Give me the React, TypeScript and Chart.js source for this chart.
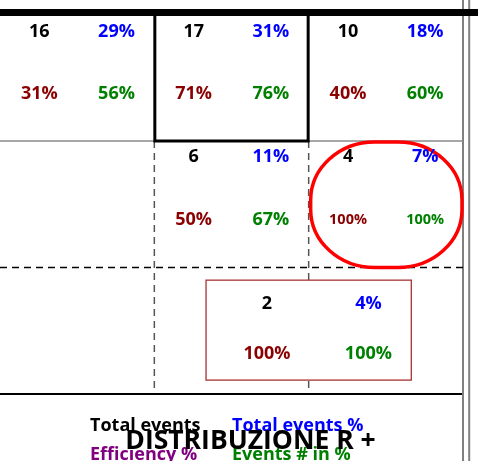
import { useEffect, useRef } from 'react';
import { Chart, registerables } from 'chart.js';

Chart.register(...registerables);

// ---- data ----
const totalEvents = [16, 17, 10, 6, 4, 2];
const totalEventsPct = [29, 31, 18, 11, 7, 4];
const efficiencyPct = [31, 71, 40, 50, 100, 100];
const eventsInPct = [56, 76, 60, 67, 100, 100];
const cellColumn = [0, 1, 2, 1, 2, 1];
const cellRow = [0, 0, 0, 1, 1, 2];
const seriesLabels = ['Total events', 'Total events %', 'Efficiency %', 'Events # in %'];
const chartTitle = 'DISTRIBUZIONE R +';

const seriesValues = [totalEvents, totalEventsPct, efficiencyPct, eventsInPct];
const seriesSuffix = ['', '%', '%', '%'];
const valueColors = ['#000000', '#0000ff', '#8b0000', '#008000'];
const legendColors = ['#000000', '#0000ff', '#800080', '#008000'];

const SELECTED_CELL = 1;
const ELLIPSE_CELL = 4;
const FRAMED_CELL = 5;
const FONT = '"Open Sans", "Noto Sans", sans-serif';

function anchor(cell: number, s: number) {
  const right = s % 2 === 1;
  const bottom = s >= 2;
  if (cell === FRAMED_CELL) {
    return {
      x: cellColumn[cell] + (right ? 1.387 : 0.73),
      y: cellRow[cell] + (bottom ? 0.676 : 0.28),
    };
  }
  return {
    x: cellColumn[cell] + (right ? 0.755 : 0.255),
    y: cellRow[cell] + (bottom ? 0.617 : (cellRow[cell] === 0 ? 0.13 : 0.118)),
  };
}

const gridPlugin = {
  id: 'gridPlugin',
  beforeDatasetsDraw(chart: any) {
    const { ctx, scales } = chart;
    const X = (v: number) => scales.x.getPixelForValue(v);
    const Y = (v: number) => scales.y.getPixelForValue(v);
    const line = (x1: number, y1: number, x2: number, y2: number) => {
      ctx.beginPath();
      ctx.moveTo(x1, y1);
      ctx.lineTo(x2, y2);
      ctx.stroke();
    };
    ctx.save();
    // right double border
    ctx.strokeStyle = '#808080';
    ctx.lineWidth = 2;
    line(X(3), 0, X(3), chart.height);
    line(X(3) + 6.2, 0, X(3) + 6.2, chart.height);
    // row separator
    ctx.strokeStyle = '#8a8a8a';
    ctx.lineWidth = 1.5;
    line(X(0), Y(1), X(1), Y(1));
    line(X(2), Y(1), X(3), Y(1));
    // dashed verticals
    ctx.setLineDash([7, 5]);
    ctx.strokeStyle = '#555555';
    ctx.lineWidth = 1.5;
    line(X(1), Y(1), X(1), Y(3));
    line(X(2), Y(1), X(2), Y(3));
    // dashed horizontal
    ctx.strokeStyle = '#000000';
    ctx.lineWidth = 1.3;
    line(X(0), Y(2), X(3), Y(2));
    ctx.setLineDash([]);
    // bottom line
    ctx.lineWidth = 2;
    line(X(0), Y(3), X(3) - 1, Y(3));
    // top band
    ctx.fillStyle = '#000000';
    ctx.fillRect(0, Y(0) - 5.5, chart.width, 7);
    // selected cell box
    const sc = cellColumn[SELECTED_CELL];
    const sr = cellRow[SELECTED_CELL];
    ctx.lineWidth = 3;
    ctx.strokeStyle = '#000000';
    ctx.beginPath();
    ctx.moveTo(X(sc) + 0.5, Y(sr));
    ctx.lineTo(X(sc) + 0.5, Y(sr + 1));
    ctx.lineTo(X(sc + 1) - 0.5, Y(sr + 1));
    ctx.lineTo(X(sc + 1) - 0.5, Y(sr));
    ctx.stroke();
    // ellipse around cell
    const ec = cellColumn[ELLIPSE_CELL];
    const er = cellRow[ELLIPSE_CELL];
    ctx.strokeStyle = '#ff0000';
    ctx.lineWidth = 3.5;
    ctx.beginPath();
    const ex = X(ec) + 2, ey = Y(er) + 1;
    const ew = X(ec + 1) - X(ec) - 3, eh = Y(er + 1) - Y(er) - 1;
    (ctx as any).roundRect(ex, ey, ew, eh, [{ x: 64, y: 58 }]);
    ctx.stroke();
    // framed box
    const fc = cellColumn[FRAMED_CELL];
    const fr = cellRow[FRAMED_CELL];
    ctx.strokeStyle = '#a83232';
    ctx.lineWidth = 1.3;
    ctx.fillStyle = '#ffffff';
    const fx1 = X(fc + 0.335), fx2 = X(fc + 1.665);
    const fy1 = Y(fr + 0.1), fy2 = Y(fr + 0.89);
    ctx.fillRect(fx1, fy1, fx2 - fx1, fy2 - fy1);
    ctx.strokeRect(fx1, fy1, fx2 - fx1, fy2 - fy1);
    ctx.restore();
  },
  afterDatasetsDraw(chart: any) {
    const { ctx } = chart;
    ctx.save();
    ctx.textAlign = 'center';
    ctx.textBaseline = 'alphabetic';
    chart.data.datasets.forEach((ds: any, s: number) => {
      const meta = chart.getDatasetMeta(s);
      meta.data.forEach((pt: any, i: number) => {
        const size = i === ELLIPSE_CELL && s >= 2 ? 14.5 : 18;
        ctx.font = `bold ${size}px ${FONT}`;
        ctx.fillStyle = valueColors[s];
        ctx.fillText(`${seriesValues[s][i]}${seriesSuffix[s]}`, pt.x, pt.y + size * 0.357);
      });
    });
    ctx.restore();
  },
  afterDraw(chart: any) {
    const { ctx } = chart;
    ctx.save();
    ctx.textBaseline = 'alphabetic';
    ctx.textAlign = 'left';
    ctx.font = `bold 18px ${FONT}`;
    const lx = [90, 232, 90, 232];
    const ly = [431, 431, 460, 460];
    seriesLabels.forEach((t, i) => {
      ctx.fillStyle = legendColors[i];
      ctx.fillText(t, lx[i], ly[i]);
    });
    ctx.textAlign = 'center';
    ctx.fillStyle = '#000000';
    ctx.font = `bold 26.5px ${FONT}`;
    ctx.fillText(chartTitle, 250.5, 449);
    ctx.restore();
  },
};

export default function App() {
  const ref = useRef<HTMLCanvasElement>(null);
  useEffect(() => {
    if (!ref.current) return;
    const chart = new Chart(ref.current, {
      type: 'scatter',
      data: {
        datasets: seriesLabels.map((label, s) => ({
          label,
          data: totalEvents.map((_, i) => anchor(i, s)),
          pointRadius: 0,
          pointHoverRadius: 0,
        })),
      },
      options: {
        animation: false,
        responsive: false,
        devicePixelRatio: 1,
        events: [],
        layout: { padding: { left: -2, right: 15, top: 14.5, bottom: 67 } },
        scales: {
          x: { type: 'linear', min: 0, max: 3, display: false },
          y: { type: 'linear', min: 0, max: 3, reverse: true, display: false },
        },
        plugins: {
          legend: { display: false },
          title: { display: false },
          tooltip: { enabled: false },
        },
      },
      plugins: [gridPlugin],
    });
    return () => chart.destroy();
  }, []);
  return (
    <div style={{ position: 'absolute', left: 0, top: 0, width: 478, height: 461, background: '#fff' }}>
      <canvas ref={ref} width={478} height={461} />
    </div>
  );
}
